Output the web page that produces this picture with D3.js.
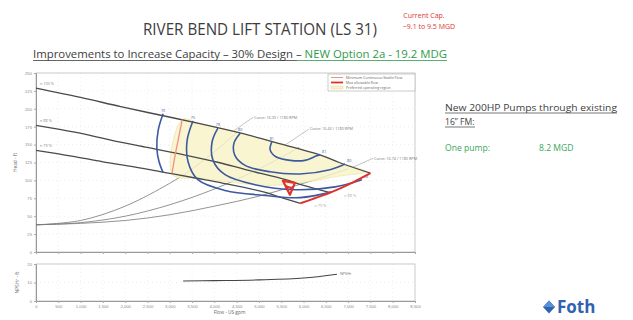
<!DOCTYPE html>
<html><head><meta charset="utf-8">
<script src="https://cdn.jsdelivr.net/npm/d3@7"></script>
<style>
html,body{margin:0;padding:0;background:#fff;}
svg{display:block;font-family:"Open Sans","Liberation Sans",sans-serif;}
</style></head><body>
<svg id="slide" width="633" height="320"></svg>
<script>
// ---- axis ticks ----
const flowTicks = [0,500,1000,1500,2000,2500,3000,3500,4000,4500,5000,5500,6000,6500,7000,7500,8000,8500];
const headTicks = [0,25,50,75,100,125,150,175,200,225,250];
const npshTicks = [0,10,20];

// ---- pump curves at three speeds: [flow gpm, head ft] ----
const speedLabels = ["n 100 %", "n 88 %", "n 79 %"];
const pumpFull = [[0,229],[1000,216],[1900,203],[2800,191],[3700,179],[4600,166],[5300,154],[6400,135],[6800,125],[7500,110]];
const pumpMid  = [[0,177],[900,167],[1700,156],[2500,146],[3300,136],[4100,125],[4700,115],[5600,101],[6000,93],[6600,83]];
const pumpLow  = [[0,142],[800,134],[1500,126],[2200,119],[2900,111],[3600,103],[4200,96],[5100,84],[5400,78],[5930,68]];

// ---- system curves ----
const systemHigh = [[0,38],[1000,44],[2000,64],[3000,96],[3500,116],[4000,140],[4500,167]];
const systemMid  = [[0,38],[1000,41],[2000,50],[3000,66],[4000,88],[5000,116],[5900,146]];
const systemLow  = [[0,38],[1000,40],[2000,44],[3000,52],[4000,64],[5000,78],[6000,96],[7000,116]];

// ---- efficiency contours (%) ----
const effLabels = ["70","75","78","80","81"];
const eff70 = [[2850,193],[2740,170],[2710,145],[2760,126],[2850,111]];
const eff75 = [[3520,183],[3390,156],[3410,126],[3630,101],[4240,86],[5140,79],[5920,76],[6640,84]];
const eff78 = [[4080,173],[3950,154],[3970,128],[4240,108],[4910,94],[5810,87],[6710,91],[7310,101]];
const eff80 = [[4580,166],[4440,152],[4460,135],[4690,121],[5250,112],[5920,109],[6590,115],[6930,123]];
const eff81 = [[5290,154],[5250,143],[5380,133],[5700,128],[6030,128],[6280,134],[6370,136]];

// ---- operating limits ----
const minStableFlow = [[3280,185],[3200,160],[3120,135],[3050,110]];
const maxAllowFlow  = [[7500,110],[7100,97],[6600,83],[6250,75],[5930,68]];
const preferredRegion = [[3280,185],[3700,179],[4600,166],[5300,154],[6400,135],[6800,125],[7400,112],
                         [6800,106],[6100,98],[5200,93],[4400,97],[3700,103],[3060,108]];

// ---- NPSH required ----
const npshReq = [[3300,10.8],[4000,11.0],[5000,11.4],[6000,12.4],[6750,14.5]];

// ---- duty point ----
const dutyMGD = 8.2;
const dutyHead = 91;
const curveNotes = ["Curve: 16.33 / 1180 RPM", "Curve: 16.43 / 1180 RPM", "Curve: 16.74 / 1180 RPM"];
const curveNoteFlows = [4420, 5580, 7110];
const legendItems = ["Minimum Continuous Stable Flow", "Max allowable flow", "Preferred operating region"];

const svg = d3.select("#slide");

// ---------- slide text ----------
svg.append("text").attr("x", 260).attr("y", 35).attr("text-anchor", "middle")
  .attr("font-size", 16.5).attr("fill", "#3d3d3d").attr("textLength", 234).attr("lengthAdjust", "spacingAndGlyphs")
  .text("RIVER BEND LIFT STATION (LS 31)");
svg.append("text").attr("x", 424).attr("y", 17.5).attr("text-anchor", "middle")
  .attr("font-size", 7).attr("fill", "#e0352d").text("Current Cap.");
svg.append("text").attr("x", 429).attr("y", 29).attr("text-anchor", "middle")
  .attr("font-size", 7).attr("fill", "#e0352d").text("~9.1 to 9.5 MGD");

const sub = svg.append("text").attr("x", 33).attr("y", 58).attr("font-size", 10.8)
  .attr("textLength", 414).attr("lengthAdjust", "spacingAndGlyphs");
sub.append("tspan").attr("fill", "#3d3d3d").text("Improvements to Increase Capacity – 30% Design – ");
sub.append("tspan").attr("fill", "#2f9a4c").text("NEW Option 2a - 19.2 MDG");
svg.append("line").attr("x1", 33).attr("x2", 297).attr("y1", 60.5).attr("y2", 60.5).attr("stroke", "#3d3d3d").attr("stroke-width", 0.8);
svg.append("line").attr("x1", 297).attr("x2", 447).attr("y1", 60.5).attr("y2", 60.5).attr("stroke", "#2f9a4c").attr("stroke-width", 0.8);

svg.append("text").attr("x", 445).attr("y", 111).attr("font-size", 8.6).attr("fill", "#3d3d3d")
  .attr("textLength", 172).attr("lengthAdjust", "spacingAndGlyphs").text("New 200HP Pumps through existing");
svg.append("line").attr("x1", 445).attr("x2", 617).attr("y1", 113).attr("y2", 113).attr("stroke", "#3d3d3d").attr("stroke-width", 0.7);
svg.append("text").attr("x", 445).attr("y", 125).attr("font-size", 8.6).attr("fill", "#3d3d3d").text("16” FM:");
svg.append("line").attr("x1", 445).attr("x2", 475).attr("y1", 127).attr("y2", 127).attr("stroke", "#3d3d3d").attr("stroke-width", 0.7);
svg.append("text").attr("x", 445).attr("y", 151).attr("font-size", 8.6).attr("fill", "#3aa65c").text("One pump:");
svg.append("text").attr("x", 539).attr("y", 151).attr("font-size", 8.6).attr("fill", "#3aa65c").text(dutyMGD.toFixed(1) + " MGD");

// company mark
svg.append("path").attr("d", "M543,307 L549,300.5 L555,307 L549,313.5 Z").attr("fill", "#2f63b0");
svg.append("path").attr("d", "M543,307 L555,307 L549,300.5 Z").attr("fill", "#5b8fd6");
svg.append("text").attr("x", 557).attr("y", 313).attr("font-size", 17).attr("font-weight", "bold")
  .attr("fill", "#2f63b0").text("Foth");

// ---------- chart scales ----------
const x = d3.scaleLinear().domain([0, 8500]).range([36, 415]);
const y = d3.scaleLinear().domain([0, 250]).range([252, 73]);
const yN = d3.scaleLinear().domain([0, 20]).range([301, 264]);

const g = svg.append("g");

// grid
g.append("g").selectAll("line").data(flowTicks.slice(1, -1)).join("line")
  .attr("x1", d => x(d)).attr("x2", d => x(d)).attr("y1", y(250)).attr("y2", y(0))
  .attr("stroke", "#e2e2e2").attr("stroke-width", 0.6).attr("stroke-dasharray", "1,3");
g.append("g").selectAll("line").data(headTicks.slice(1, -1)).join("line")
  .attr("x1", x(0)).attr("x2", x(8500)).attr("y1", d => y(d)).attr("y2", d => y(d))
  .attr("stroke", "#e2e2e2").attr("stroke-width", 0.6).attr("stroke-dasharray", "1,3");
g.append("g").selectAll("line").data(flowTicks.slice(1, -1)).join("line")
  .attr("x1", d => x(d)).attr("x2", d => x(d)).attr("y1", yN(20)).attr("y2", yN(0))
  .attr("stroke", "#e6e6e6").attr("stroke-width", 0.6).attr("stroke-dasharray", "1,3");
g.append("line").attr("x1", x(0)).attr("x2", x(8500)).attr("y1", yN(10)).attr("y2", yN(10))
  .attr("stroke", "#e0e0e0").attr("stroke-width", 0.6).attr("stroke-dasharray", "1,3");

// frames
g.append("rect").attr("x", x(0)).attr("y", y(250)).attr("width", x(8500) - x(0)).attr("height", y(0) - y(250))
  .attr("fill", "none").attr("stroke", "#bdbdbd").attr("stroke-width", 0.8);
g.append("rect").attr("x", x(0)).attr("y", yN(20)).attr("width", x(8500) - x(0)).attr("height", yN(0) - yN(20))
  .attr("fill", "none").attr("stroke", "#bdbdbd").attr("stroke-width", 0.8);

// axes
const tickStyle = sel => {
  sel.selectAll("text").attr("fill", "#8a8a8a").attr("font-size", 4.2);
  sel.selectAll("line").attr("stroke", "#aaa");
  sel.select(".domain").attr("stroke", "#999");
};
g.append("g").attr("transform", `translate(${x(0)},0)`)
  .call(d3.axisLeft(y).tickValues(headTicks).tickSize(2).tickPadding(2)).call(tickStyle);
g.append("g").attr("transform", `translate(${x(0)},0)`)
  .call(d3.axisLeft(yN).tickValues(npshTicks).tickSize(2).tickPadding(2)).call(tickStyle);
g.append("g").attr("transform", `translate(0,${yN(0)})`)
  .call(d3.axisBottom(x).tickValues(flowTicks).tickFormat(d3.format(",")).tickSize(2).tickPadding(2)).call(tickStyle);
g.append("g").attr("transform", `translate(0,${y(0)})`)
  .call(d3.axisBottom(x).tickValues(flowTicks).tickFormat("").tickSize(2)).call(tickStyle);

g.append("text").attr("transform", `translate(17,${(y(0) + y(250)) / 2}) rotate(-90)`)
  .attr("text-anchor", "middle").attr("font-size", 4.8).attr("fill", "#666").text("Head - ft");
g.append("text").attr("transform", `translate(19,${(yN(0) + yN(20)) / 2}) rotate(-90)`)
  .attr("text-anchor", "middle").attr("font-size", 4.8).attr("fill", "#666").text("NPSHr - ft");
g.append("text").attr("x", (x(0) + x(8500)) / 2 + 4).attr("y", 314).attr("text-anchor", "middle")
  .attr("font-size", 4.8).attr("fill", "#666").text("Flow - US gpm");

// line generators
const smooth = d3.line().x(d => x(d[0])).y(d => y(d[1])).curve(d3.curveCatmullRom.alpha(0.5));

// system curves
[systemHigh, systemMid, systemLow].forEach(s => {
  g.append("path").attr("d", smooth(s)).attr("fill", "none").attr("stroke", "#777").attr("stroke-width", 0.8);
});

// preferred operating region
g.append("path").attr("d", d3.line().x(d => x(d[0])).y(d => y(d[1])).curve(d3.curveCatmullRomClosed)(preferredRegion))
  .attr("fill", "#f8f3c6").attr("fill-opacity", 0.82).attr("stroke", "#e7dc8f").attr("stroke-width", 0.5);

// pump curves
[pumpFull, pumpMid, pumpLow].forEach((p, i) => {
  g.append("path").attr("d", smooth(p)).attr("fill", "none").attr("stroke", "#4a4a4a").attr("stroke-width", 1.3);
  g.append("text").attr("x", x(p[0][0]) + 4).attr("y", y(p[0][1]) - 3)
    .attr("font-size", 3.8).attr("fill", "#888").text(speedLabels[i]);
});
[pumpMid, pumpLow].forEach((p, i) => {
  const e = p[p.length - 1];
  g.append("text").attr("x", x(e[0]) + 14).attr("y", y(e[1]) + 4)
    .attr("font-size", 3.8).attr("fill", "#aaa").text(speedLabels[i + 1]);
});

// efficiency contours
const effSets = [eff70, eff75, eff78, eff80, eff81];
effSets.forEach((c, i) => {
  g.append("path").attr("d", smooth(c)).attr("fill", "none").attr("stroke", "#3b5aa0").attr("stroke-width", 1.6);
  g.append("text").attr("x", x(c[0][0])).attr("y", y(c[0][1]) - 2).attr("text-anchor", "middle")
    .attr("font-size", 3.8).attr("fill", "#3b5aa0").text(effLabels[i]);
  if (i >= 2) {
    const e = c[c.length - 1];
    g.append("text").attr("x", x(e[0]) + 2).attr("y", y(e[1]) - 2)
      .attr("font-size", 3.8).attr("fill", "#3b5aa0").text(effLabels[i]);
  }
});

// minimum continuous stable flow and max allowable flow
g.append("path").attr("d", smooth(minStableFlow)).attr("fill", "none").attr("stroke", "#ef8f8a").attr("stroke-width", 1.3);
g.append("path").attr("d", smooth(maxAllowFlow)).attr("fill", "none").attr("stroke", "#e2312b").attr("stroke-width", 2);

// curve notes with leaders onto the full-speed curve
const fullAt = q => {
  const i = d3.bisector(d => d[0]).left(pumpFull, q);
  const a = pumpFull[i - 1], b = pumpFull[i];
  return a[1] + (b[1] - a[1]) * (q - a[0]) / (b[0] - a[0]);
};
const noteOffsets = [[20, -14], [24, -16], [20, -9]];
curveNotes.forEach((t, i) => {
  const px = x(curveNoteFlows[i]), py = y(fullAt(curveNoteFlows[i]));
  const [dx, dy] = noteOffsets[i];
  g.append("line").attr("x1", px).attr("y1", py).attr("x2", px + dx).attr("y2", py + dy)
    .attr("stroke", "#888").attr("stroke-width", 0.5);
  g.append("text").attr("x", px + dx + 1).attr("y", py + dy + 1.3).attr("font-size", 3.8)
    .attr("fill", "#777").text(t);
});

// duty point
const dutyFlow = dutyMGD * 1e6 / 1440;
const dx0 = x(dutyFlow), dy0 = y(dutyHead);
g.append("path")
  .attr("d", `M${dx0 - 7},${dy0 - 6} L${dx0 + 5},${dy0 - 4} L${dx0},${dy0 + 8} Z M${dx0 - 5},${dy0 - 1} L${dx0 + 3},${dy0 + 2}`)
  .attr("fill", "none").attr("stroke", "#e2312b").attr("stroke-width", 2.2).attr("stroke-linejoin", "round");

// legend
const lg = g.append("g").attr("transform", `translate(328,74)`);
lg.append("rect").attr("width", 87).attr("height", 17).attr("fill", "#fff").attr("stroke", "#aaa").attr("stroke-width", 0.6);
const legendMarks = [
  s => s.append("line").attr("x1", 3).attr("x2", 15).attr("stroke", "#ef8f8a").attr("stroke-width", 1),
  s => s.append("line").attr("x1", 3).attr("x2", 15).attr("stroke", "#e2312b").attr("stroke-width", 1.8),
  s => s.append("rect").attr("x", 3).attr("y", -1.5).attr("width", 12).attr("height", 3).attr("fill", "#f8f3c6").attr("stroke", "#d9cf8a").attr("stroke-width", 0.4)
];
legendItems.forEach((t, i) => {
  const row = lg.append("g").attr("transform", `translate(0,${3.5 + i * 5})`);
  legendMarks[i](row);
  row.append("text").attr("x", 18).attr("y", 1.3).attr("font-size", 3.6).attr("fill", "#666").text(t);
});

// NPSH required
g.append("path").attr("d", d3.line().x(d => x(d[0])).y(d => yN(d[1])).curve(d3.curveCatmullRom)(npshReq))
  .attr("fill", "none").attr("stroke", "#444").attr("stroke-width", 1.1);
const nEnd = npshReq[npshReq.length - 1];
g.append("text").attr("x", x(nEnd[0]) + 3).attr("y", yN(nEnd[1]) + 1.3).attr("font-size", 3.8)
  .attr("fill", "#777").text("NPSHr");
</script>
</body></html>
